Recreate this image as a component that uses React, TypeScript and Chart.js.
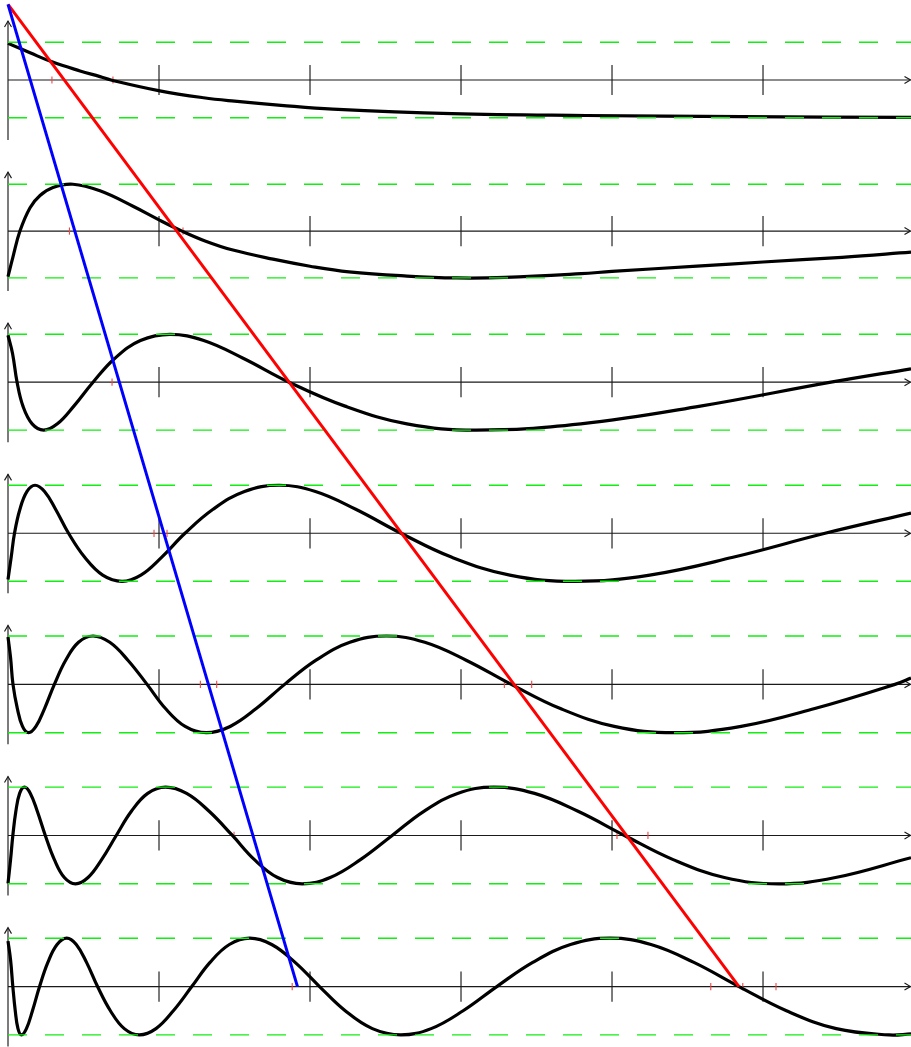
import React, { useEffect, useRef } from "react";
import { Chart, registerables } from "chart.js";

Chart.register(...registerables);

// ---- axis / layout values (in chart units: 1 unit = one x-tick step) ----
const X_MIN = -0.053;
const X_MAX = 5.98;
const Y_MAX = 0.5294;
const Y_MIN = -6.4;
const X_TICKS = [1, 2, 3, 4, 5];
const PANEL_ZERO = [0, -1, -2, -3, -4, -5, -6];
const PANEL_AMPLITUDE = [0.25, 0.31, 0.317, 0.318, 0.32, 0.32, 0.32];

// ---- panel curves: x positions and normalised values (-1..1) ----
const P1_X = [0, 0.146, 0.291, 0.477, 0.609, 0.682, 0.997, 1.295, 1.5, 1.808, 2.151, 2.939, 3.828, 4.858, 5.98];
const P1_Y = [0.97, 0.72, 0.48, 0.24, 0.09, 0, -0.28, -0.47, -0.56, -0.67, -0.77, -0.89, -0.94, -0.97, -0.99];

const P2_X = [0, 0.033, 0.079, 0.146, 0.212, 0.298, 0.43, 0.609, 0.828, 1.0, 1.152, 1.305, 1.483, 1.755, 2.0, 2.258, 2.642, 2.967, 3.291, 3.795, 4.0, 4.563, 5.0, 5.523, 5.98];
const P2_Y = [-0.97, -0.55, 0, 0.5, 0.76, 0.93, 1.0, 0.86, 0.53, 0.24, 0, -0.21, -0.4, -0.6, -0.75, -0.87, -0.96, -1.0, -0.99, -0.91, -0.86, -0.75, -0.66, -0.56, -0.45];

const P3_X = [0, 0.03, 0.06, 0.099, 0.16, 0.236, 0.327, 0.436, 0.563, 0.708, 0.877, 1.073, 1.296, 1.557, 1.861, 2.232, 2.642, 3.099, 3.793, 4.585, 5.45, 5.98];
const P3_Y = [0.98, 0.6, 0, -0.5, -0.87, -1.0, -0.87, -0.5, 0, 0.5, 0.87, 1.0, 0.87, 0.5, 0, -0.5, -0.87, -1.0, -0.87, -0.5, 0, 0.28];

const P4_X = [0, 0.021, 0.043, 0.079, 0.126, 0.179, 0.242, 0.315, 0.401, 0.508, 0.627, 0.755, 0.88, 1.017, 1.172, 1.358, 1.566, 1.795, 2.036, 2.303, 2.603, 2.94, 3.323, 3.755, 4.25, 4.801, 5.411, 5.98];
const P4_Y = [-0.96, -0.5, 0, 0.5, 0.87, 1.0, 0.87, 0.5, 0, -0.5, -0.87, -1.0, -0.87, -0.5, 0, 0.5, 0.87, 1.0, 0.87, 0.5, 0, -0.5, -0.87, -1.0, -0.87, -0.5, 0, 0.42];

const P5_X = [0, 0.017, 0.033, 0.062, 0.096, 0.136, 0.185, 0.242, 0.307, 0.382, 0.467, 0.563, 0.674, 0.794, 0.921, 1.043, 1.173, 1.313, 1.471, 1.644, 1.832, 2.04, 2.264, 2.506, 2.76, 3.034, 3.333, 3.658, 4.015, 4.411, 4.855, 5.343, 5.874, 5.98];
const P5_Y = [0.98, 0.55, 0, -0.5, -0.87, -1.0, -0.87, -0.5, 0, 0.5, 0.87, 1.0, 0.87, 0.5, 0, -0.5, -0.87, -1.0, -0.87, -0.5, 0, 0.5, 0.87, 1.0, 0.87, 0.5, 0, -0.5, -0.87, -1.0, -0.87, -0.5, 0, 0.13];

const P6_X = [0, 0.017, 0.032, 0.052, 0.077, 0.109, 0.148, 0.194, 0.247, 0.307, 0.373, 0.447, 0.53, 0.62, 0.717, 0.817, 0.925, 1.044, 1.183, 1.332, 1.486, 1.632, 1.785, 1.948, 2.134, 2.334, 2.544, 2.754, 2.977, 3.217, 3.487, 3.775, 4.083, 4.405, 4.744, 5.103, 5.48, 5.98];
const P6_Y = [-0.99, -0.5, 0, 0.5, 0.87, 1.0, 0.87, 0.5, 0, -0.5, -0.87, -1.0, -0.87, -0.5, 0, 0.5, 0.87, 1.0, 0.87, 0.5, 0, -0.5, -0.87, -1.0, -0.87, -0.5, 0, 0.5, 0.87, 1.0, 0.87, 0.5, 0, -0.5, -0.87, -1.0, -0.87, -0.46];

const P7_X = [0, 0.017, 0.032, 0.048, 0.066, 0.089, 0.122, 0.162, 0.209, 0.264, 0.325, 0.389, 0.452, 0.52, 0.593, 0.678, 0.77, 0.87, 0.98, 1.095, 1.217, 1.338, 1.466, 1.601, 1.746, 1.901, 2.063, 2.233, 2.413, 2.602, 2.802, 3.014, 3.237, 3.475, 3.725, 3.987, 4.258, 4.542, 4.841, 5.155, 5.485, 5.834, 5.98];
const P7_Y = [0.94, 0.55, 0, -0.5, -0.87, -1.0, -0.87, -0.5, 0, 0.5, 0.87, 1.0, 0.87, 0.5, 0, -0.5, -0.87, -1.0, -0.87, -0.5, 0, 0.5, 0.87, 1.0, 0.87, 0.5, 0, -0.5, -0.87, -1.0, -0.87, -0.5, 0, 0.5, 0.87, 1.0, 0.87, 0.5, 0, -0.5, -0.87, -1.0, -0.98];

const PANEL_X = [P1_X, P2_X, P3_X, P4_X, P5_X, P6_X, P7_X];
const PANEL_Y = [P1_Y, P2_Y, P3_Y, P4_Y, P5_Y, P6_Y, P7_Y];

// ---- diagonal lines ----
const RED_LINE_X = [0, 4.841];
const RED_LINE_Y = [0.5, -6];
const BLUE_LINE_X = [0, 1.917];
const BLUE_LINE_Y = [0.5, -6];

// ---- small red marks on the axes ----
const MARK_PANEL = [0, 0, 1, 1, 2, 3, 3, 4, 4, 4, 4, 5, 5, 5, 6, 6, 6, 6];
const MARK_X = [0.291, 0.695, 0.407, 1.159, 0.689, 0.967, 1.053, 1.274, 1.382, 3.287, 3.468, 1.497, 4.033, 4.238, 1.882, 4.654, 4.866, 5.086];

const AXIS_TOP = 0.39;
const AXIS_BOTTOM = 0.397;
const TICK_HALF = 0.1;

const axesPlugin = {
  id: "panelAxes",
  beforeDatasetsDraw(chart: any) {
    const { ctx, scales } = chart;
    const xs = scales.x;
    const ys = scales.y;
    ctx.save();
    ctx.strokeStyle = "#1a1a1a";
    ctx.lineWidth = 1.15;
    ctx.lineCap = "butt";
    const xl = xs.getPixelForValue(0);
    const xr = xs.getPixelForValue(X_MAX) - 0.5;
    PANEL_ZERO.forEach((z) => {
      const y0 = ys.getPixelForValue(z);
      ctx.beginPath();
      ctx.moveTo(xl, y0);
      ctx.lineTo(xr, y0);
      ctx.stroke();
      ctx.beginPath();
      ctx.moveTo(xr - 6, y0 - 3.5);
      ctx.lineTo(xr, y0);
      ctx.lineTo(xr - 6, y0 + 3.5);
      ctx.stroke();
      const yt = ys.getPixelForValue(z + AXIS_TOP);
      const yb = ys.getPixelForValue(z - AXIS_BOTTOM);
      ctx.beginPath();
      ctx.moveTo(xl, yb);
      ctx.lineTo(xl, yt);
      ctx.stroke();
      ctx.beginPath();
      ctx.moveTo(xl - 3.5, yt + 6);
      ctx.lineTo(xl, yt);
      ctx.lineTo(xl + 3.5, yt + 6);
      ctx.stroke();
      X_TICKS.forEach((t) => {
        const px = xs.getPixelForValue(t);
        ctx.beginPath();
        ctx.moveTo(px, ys.getPixelForValue(z + TICK_HALF));
        ctx.lineTo(px, ys.getPixelForValue(z - TICK_HALF));
        ctx.stroke();
      });
    });
    ctx.restore();
  },
};

export default function App() {
  const canvasRef = useRef<HTMLCanvasElement | null>(null);

  useEffect(() => {
    if (!canvasRef.current) return;
    const datasets: any[] = [];

    PANEL_X.forEach((xsArr, k) => {
      datasets.push({
        label: "panel " + (k + 1),
        data: xsArr.map((x, i) => ({ x, y: PANEL_ZERO[k] + PANEL_AMPLITUDE[k] * PANEL_Y[k][i] })),
        borderColor: "#000000",
        borderWidth: 3.2,
        pointRadius: 0,
        tension: 0.4,
        fill: false,
        order: 4,
      });
    });

    PANEL_ZERO.forEach((z, k) => {
      [1, -1].forEach((s) => {
        datasets.push({
          label: "bound",
          data: [
            { x: 0, y: z + s * PANEL_AMPLITUDE[k] },
            { x: X_MAX, y: z + s * PANEL_AMPLITUDE[k] },
          ],
          borderColor: "#11ee11",
          borderWidth: 1.4,
          borderDash: [19, 18],
          pointRadius: 0,
          fill: false,
          order: 3,
        });
      });
    });

    datasets.push({
      label: "red",
      data: RED_LINE_X.map((x, i) => ({ x, y: RED_LINE_Y[i] })),
      borderColor: "#ff0000",
      borderWidth: 3,
      pointRadius: 0,
      fill: false,
      order: 2,
    });
    datasets.push({
      label: "blue",
      data: BLUE_LINE_X.map((x, i) => ({ x, y: BLUE_LINE_Y[i] })),
      borderColor: "#0000ff",
      borderWidth: 3,
      pointRadius: 0,
      fill: false,
      order: 1,
    });
    datasets.push({
      label: "marks",
      data: MARK_X.map((x, i) => ({ x, y: PANEL_ZERO[MARK_PANEL[i]] })),
      showLine: false,
      pointStyle: "line",
      rotation: 90,
      pointRadius: 3.6,
      pointBorderWidth: 1.1,
      pointBorderColor: "rgb(240,70,70)",
      pointBackgroundColor: "rgb(240,70,70)",
      borderColor: "rgb(240,70,70)",
      order: 5,
    });

    const chart = new Chart(canvasRef.current, {
      type: "line",
      data: { datasets },
      options: {
        responsive: false,
        animation: false,
        events: [],
        layout: { padding: 0, autoPadding: false } as any,
        clip: false as any,
        plugins: { legend: { display: false }, tooltip: { enabled: false } },
        scales: {
          x: { type: "linear", min: X_MIN, max: X_MAX, display: false },
          y: { type: "linear", min: Y_MIN, max: Y_MAX, display: false },
        },
      },
      plugins: [axesPlugin],
    });
    return () => chart.destroy();
  }, []);

  return (
    <div style={{ position: "absolute", left: 0, top: 0, width: 911, height: 1047, background: "#fff" }}>
      <canvas ref={canvasRef} width={911} height={1047} style={{ display: "block" }} />
    </div>
  );
}
